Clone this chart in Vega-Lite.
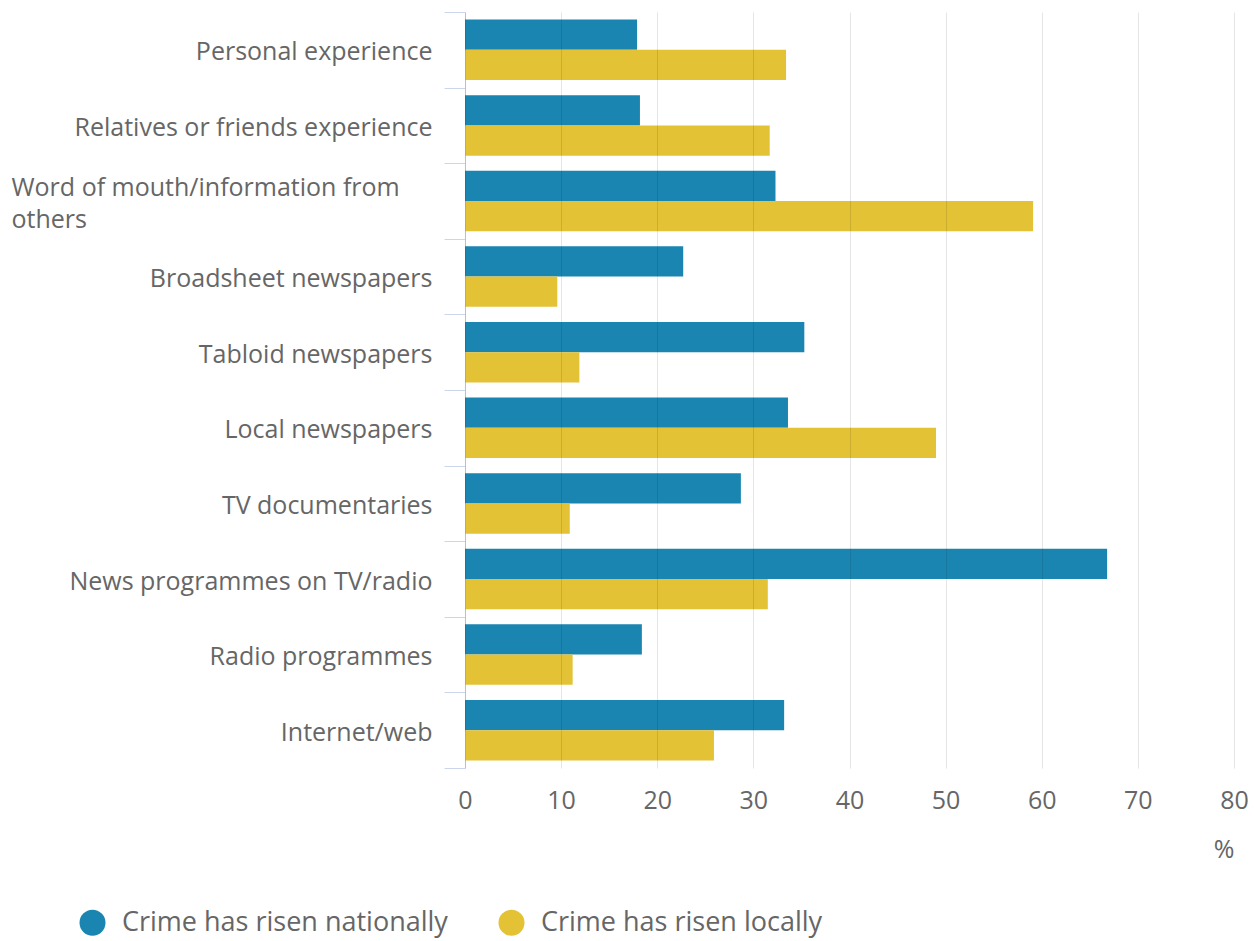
{
  "$schema": "https://vega.github.io/schema/vega-lite/v6.json",
  "width": 769,
  "height": 756,
  "autosize": {"type": "none"},
  "padding": {"left": 465, "top": 12, "right": 23, "bottom": 173},
  "background": "#ffffff",
  "config": {
    "font": "Open Sans",
    "view": {"stroke": null}
  },
  "data": {
    "values": [
      {"source": "Personal experience", "series": "Crime has risen nationally", "value": 17.9},
      {"source": "Personal experience", "series": "Crime has risen locally", "value": 33.4},
      {"source": "Relatives or friends experience", "series": "Crime has risen nationally", "value": 18.2},
      {"source": "Relatives or friends experience", "series": "Crime has risen locally", "value": 31.7},
      {"source": "Word of mouth/information from others", "series": "Crime has risen nationally", "value": 32.3},
      {"source": "Word of mouth/information from others", "series": "Crime has risen locally", "value": 59.1},
      {"source": "Broadsheet newspapers", "series": "Crime has risen nationally", "value": 22.7},
      {"source": "Broadsheet newspapers", "series": "Crime has risen locally", "value": 9.6},
      {"source": "Tabloid newspapers", "series": "Crime has risen nationally", "value": 35.3},
      {"source": "Tabloid newspapers", "series": "Crime has risen locally", "value": 11.9},
      {"source": "Local newspapers", "series": "Crime has risen nationally", "value": 33.6},
      {"source": "Local newspapers", "series": "Crime has risen locally", "value": 49.0},
      {"source": "TV documentaries", "series": "Crime has risen nationally", "value": 28.7},
      {"source": "TV documentaries", "series": "Crime has risen locally", "value": 10.9},
      {"source": "News programmes on TV/radio", "series": "Crime has risen nationally", "value": 66.8},
      {"source": "News programmes on TV/radio", "series": "Crime has risen locally", "value": 31.5},
      {"source": "Radio programmes", "series": "Crime has risen nationally", "value": 18.4},
      {"source": "Radio programmes", "series": "Crime has risen locally", "value": 11.2},
      {"source": "Internet/web", "series": "Crime has risen nationally", "value": 33.2},
      {"source": "Internet/web", "series": "Crime has risen locally", "value": 25.9}
    ]
  },
  "mark": {"type": "bar"},
  "encoding": {
    "y": {
      "field": "source",
      "type": "nominal",
      "sort": null,
      "scale": {"paddingInner": 0, "paddingOuter": 0},
      "axis": {
        "title": null,
        "domainColor": "#ccd6eb",
        "domainWidth": 1,
        "tickColor": "#ccd6eb",
        "tickSize": 21,
        "tickBand": "extent",
        "grid": false,
        "labelFontSize": 25,
        "labelColor": "#666666",
        "labelLimit": 600,
        "labelLineHeight": 32,
        "labelExpr": "datum.value === 'Word of mouth/information from others' ? ['Word of mouth/information from', 'others'] : datum.label",
        "labelAlign": {"condition": {"test": "datum.value === 'Word of mouth/information from others'", "value": "left"}, "value": "right"},
        "labelPadding": {"condition": {"test": "datum.value === 'Word of mouth/information from others'", "value": 433}, "value": 12},
        "labelOffset": {"condition": {"test": "datum.value === 'Word of mouth/information from others'", "value": -14}, "value": 2}
      }
    },
    "yOffset": {
      "field": "series",
      "type": "nominal",
      "sort": ["Crime has risen nationally", "Crime has risen locally"],
      "scale": {"paddingInner": 0, "paddingOuter": 0.25}
    },
    "x": {
      "field": "value",
      "type": "quantitative",
      "scale": {"domain": [0, 80], "nice": false},
      "axis": {
        "title": "%",
        "titleFontSize": 25,
        "titleFontWeight": "normal",
        "titleColor": "#666666",
        "titleAnchor": "end",
        "titlePadding": 24,
        "values": [0, 10, 20, 30, 40, 50, 60, 70, 80],
        "domain": false,
        "ticks": false,
        "tickSize": 0,
        "labelFlush": false,
        "labelFontSize": 25,
        "labelColor": "#666666",
        "labelPadding": 20,
        "gridColor": "#000000",
        "gridOpacity": 0.1,
        "zindex": 1
      }
    },
    "color": {
      "field": "series",
      "type": "nominal",
      "sort": ["Crime has risen nationally", "Crime has risen locally"],
      "scale": {"domain": ["Crime has risen nationally", "Crime has risen locally"], "range": ["#1a85b0", "#e3c236"]},
      "legend": {
        "title": null,
        "orient": "none",
        "direction": "horizontal",
        "legendX": -386,
        "legendY": 897,
        "symbolType": "circle",
        "symbolSize": 676,
        "symbolStrokeWidth": 0,
        "labelFontSize": 27,
        "labelColor": "#666666",
        "labelOffset": 16,
        "columnPadding": 50,
        "labelLimit": 500
      }
    }
  }
}
